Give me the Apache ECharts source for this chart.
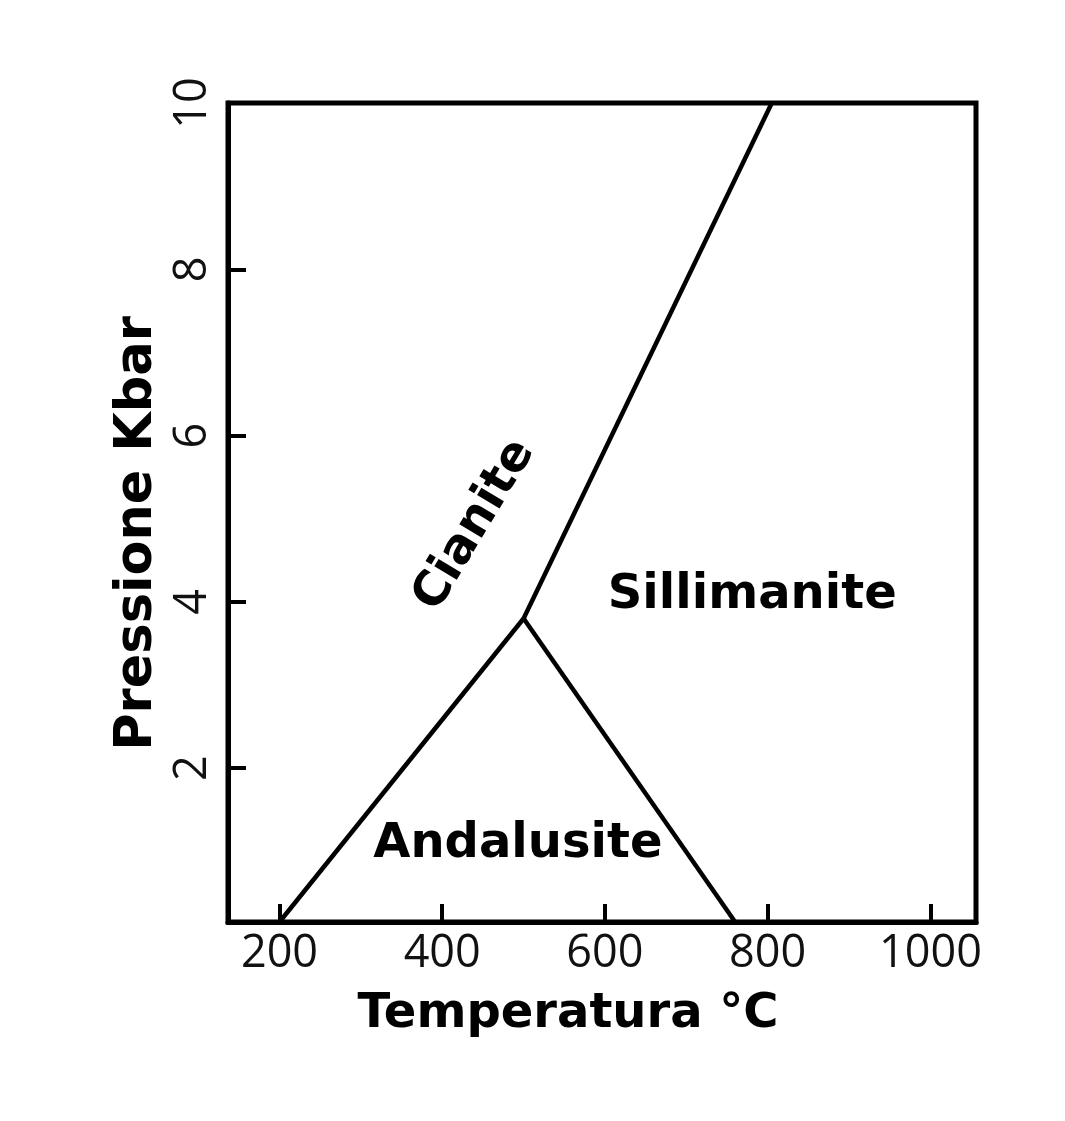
<!DOCTYPE html>
<html>
<head>
<meta charset="utf-8">
<script src="https://cdn.jsdelivr.net/npm/echarts@6/dist/echarts.min.js"></script>
<style>
html,body{margin:0;padding:0;background:#fff;}
#chart{width:1065px;height:1121px;}
</style>
</head>
<body>
<div id="chart"></div>
<script>
// Tick labels
const temperatureTicks = [200, 400, 600, 800, 1000];
const pressureTicks = [2, 4, 6, 8, 10];

// Phase boundaries (Temperature °C, Pressure Kbar)
const andKyT = [200, 500];
const andKyP = [0.15, 3.8];
const kySilT = [500, 805];
const kySilP = [3.8, 10];
const andSilT = [500, 760];
const andSilP = [3.8, 0.15];

// Phase field labels
const phaseNames = ['Andalusite', 'Sillimanite', 'Cianite'];
const phaseT = [493, 781, 440];
const phaseP = [1.08, 4.08, 4.92];
const phaseRotate = [0, 0, 59];

const zip = (a, b) => a.map((v, i) => [v, b[i]]);

const boldFont = '"DejaVu Sans", sans-serif';
const tickFont = '"Open Sans", sans-serif';

const lineSeries = (name, T, P) => ({
  name: name,
  type: 'line',
  data: zip(T, P),
  symbol: 'none',
  silent: true,
  animation: false,
  lineStyle: { color: '#000', width: 4.5 },
  z: 3
});

const chart = echarts.init(document.getElementById('chart'), null, { renderer: 'canvas' });
chart.setOption({
  backgroundColor: '#fff',
  animation: false,
  grid: {
    left: 228, right: 89, top: 103, bottom: 199,
    show: true, borderColor: '#000', borderWidth: 5, backgroundColor: '#fff'
  },
  xAxis: {
    type: 'value',
    min: 136.7,
    max: 1056,
    name: 'Temperatura °C',
    nameLocation: 'middle',
    nameGap: 69,
    nameTextStyle: { fontFamily: boldFont, fontWeight: 'bold', fontSize: 48, color: '#000', padding: [0, 68, 0, 0] },
    axisLine: { show: true, lineStyle: { color: '#000', width: 5 } },
    axisTick: { show: true, inside: true, length: 18, customValues: temperatureTicks, lineStyle: { color: '#000', width: 4 } },
    axisLabel: { show: true, customValues: temperatureTicks, margin: 10, fontFamily: tickFont, fontSize: 45, color: '#111', formatter: v => String(v) },
    splitLine: { show: false }
  },
  yAxis: {
    type: 'value',
    min: 0.15,
    max: 10,
    name: 'Pressione Kbar',
    nameLocation: 'middle',
    nameGap: 63,
    nameTextStyle: { fontFamily: boldFont, fontWeight: 'bold', fontSize: 51, color: '#000', padding: [0, 42, 0, 0] },
    axisLine: { show: true, lineStyle: { color: '#000', width: 5 } },
    axisTick: { show: true, inside: true, length: 18, customValues: pressureTicks, lineStyle: { color: '#000', width: 4 } },
    axisLabel: { show: true, customValues: pressureTicks, rotate: 90, margin: 12, fontFamily: tickFont, fontSize: 45, color: '#111', formatter: v => String(v) },
    splitLine: { show: false }
  },
  series: [
    lineSeries('Andalusite-Cianite', andKyT, andKyP),
    lineSeries('Cianite-Sillimanite', kySilT, kySilP),
    lineSeries('Andalusite-Sillimanite', andSilT, andSilP),
    {
      type: 'scatter',
      silent: true,
      animation: false,
      symbolSize: 0,
      itemStyle: { opacity: 1 },
      data: phaseNames.map((n, i) => ({
        name: n,
        value: [phaseT[i], phaseP[i]],
        label: { rotate: phaseRotate[i] }
      })),
      label: {
        show: true,
        position: 'inside',
        formatter: p => p.name,
        fontFamily: boldFont,
        fontWeight: 'bold',
        fontSize: 48,
        color: '#000',
        opacity: 1
      },
      z: 4
    }
  ]
});
</script>
</body>
</html>
